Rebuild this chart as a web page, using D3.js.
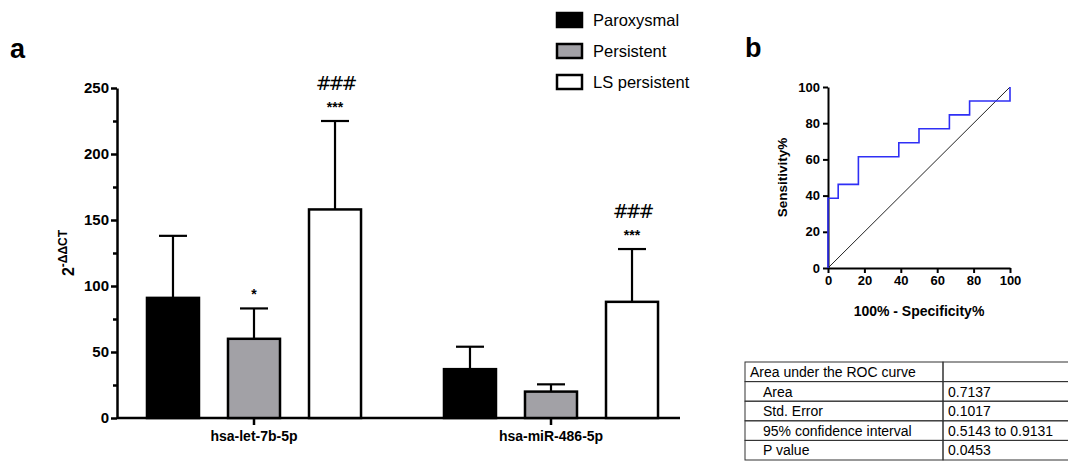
<!DOCTYPE html>
<html>
<head>
<meta charset="utf-8">
<script src="https://cdn.jsdelivr.net/npm/d3@7"></script>
<style>
  body { margin: 0; background: #fff; }
  svg { font-family: "Liberation Sans", Arial, sans-serif; }
</style>
</head>
<body>
<div id="chart"></div>
<script>
// data
const groups = ["hsa-let-7b-5p", "hsa-miR-486-5p"];
const series = ["Paroxysmal", "Persistent", "LS persistent"];
const seriesFill = ["#000000", "#a2a1a6", "#ffffff"];
const meanValues = [[91, 60, 158], [37, 20, 88]];
const errorTops = [[138, 83, 225], [54, 25.5, 128]];
const starLabels = [["", "*", "***"], ["", "", "***"]];
const hashLabels = [["", "", "###"], ["", "", "###"]];
const yTicks = [0, 25, 50, 75, 100, 125, 150, 175, 200, 225, 250];

const rocFpr = [0, 0, 5.6, 5.6, 16.7, 16.7, 38.9, 38.9, 50, 50, 66.7, 66.7, 77.8, 77.8, 100, 100];
const rocTpr = [0, 38.5, 38.5, 46.2, 46.2, 61.5, 61.5, 69.2, 69.2, 76.9, 76.9, 84.6, 84.6, 92.3, 92.3, 100];
const rocTicks = [0, 20, 40, 60, 80, 100];

const tableLabels = ["Area under the ROC curve", "Area", "Std. Error", "95% confidence interval", "P value"];
const tableValues = ["", "0.7137", "0.1017", "0.5143 to 0.9131", "0.0453"];

const svg = d3.select("#chart").append("svg")
  .attr("width", 1068)
  .attr("height", 464);

// ---- panel a: grouped bars
const plotLeft = 117, plotRight = 680, plotTop = 88, plotBottom = 418;

const y = d3.scaleLinear().domain([0, 250]).range([plotBottom, plotTop]);

const x0 = d3.scaleBand()
  .domain(groups)
  .range([plotLeft - 11.5, plotLeft + 582.5]);

const x1 = d3.scaleBand()
  .domain(series)
  .range([0, x0.bandwidth()])
  .paddingInner(0.358)
  .paddingOuter(0.512);

svg.append("text")
  .attr("x", 10).attr("y", 58)
  .style("font-size", "27px").style("font-weight", "bold")
  .text("a");

const yAxis = d3.axisLeft(y)
  .tickValues(yTicks)
  .tickSize(6)
  .tickSizeOuter(0)
  .tickFormat(d => d % 50 === 0 ? d : "");

const yG = svg.append("g")
  .attr("transform", `translate(${plotLeft},0)`)
  .call(yAxis);
yG.select(".domain").attr("stroke-width", 2.5);
yG.selectAll(".tick line").attr("stroke-width", 2.5)
  .attr("x2", d => d % 50 === 0 ? -6 : -4);
yG.selectAll(".tick text")
  .attr("x", -8)
  .style("font-size", "15px").style("font-weight", "bold")
  .style("font-family", "Liberation Sans, Arial, sans-serif")
  .attr("fill", "#000");

// y label 2^-ΔΔCT
const yLab = svg.append("text")
  .attr("transform", "translate(74,253) rotate(-90)")
  .attr("text-anchor", "middle")
  .style("font-size", "16px").style("font-weight", "bold");
yLab.append("tspan").text("2");
yLab.append("tspan").attr("dy", -7).style("font-size", "12px").text("-ΔΔCT");

// x axis
const xAxis = d3.axisBottom(x0).tickSize(7).tickSizeOuter(0);
const xG = svg.append("g")
  .attr("transform", `translate(0,${plotBottom})`)
  .call(xAxis);
xG.select(".domain").attr("d", `M${plotLeft},0H${plotRight}`).attr("stroke-width", 2.5);
xG.selectAll(".tick line").attr("stroke-width", 2.5);
xG.selectAll(".tick text")
  .attr("y", 13)
  .style("font-size", "14px").style("font-weight", "bold")
  .style("font-family", "Liberation Sans, Arial, sans-serif")
  .attr("fill", "#000");

const barData = [];
groups.forEach((g, gi) => {
  series.forEach((s, si) => {
    barData.push({
      group: g, series: s, fill: seriesFill[si],
      value: meanValues[gi][si], err: errorTops[gi][si],
      star: starLabels[gi][si], hash: hashLabels[gi][si]
    });
  });
});

const capW = 28;
const barG = svg.append("g");

// error bars (drawn first so the bar covers the stem)
barG.selectAll(".err")
  .data(barData)
  .join("g")
  .attr("class", "err")
  .each(function(d) {
    const cx = x0(d.group) + x1(d.series) + x1.bandwidth() / 2;
    const g = d3.select(this);
    g.append("line")
      .attr("x1", cx).attr("x2", cx)
      .attr("y1", y(d.value)).attr("y2", y(d.err))
      .attr("stroke", "#000").attr("stroke-width", 2.2);
    g.append("line")
      .attr("x1", cx - capW / 2).attr("x2", cx + capW / 2)
      .attr("y1", y(d.err)).attr("y2", y(d.err))
      .attr("stroke", "#000").attr("stroke-width", 2.2);
  });

barG.selectAll("rect")
  .data(barData)
  .join("rect")
  .attr("x", d => x0(d.group) + x1(d.series))
  .attr("y", d => y(d.value))
  .attr("width", x1.bandwidth())
  .attr("height", d => y(0) - y(d.value))
  .attr("fill", d => d.fill)
  .attr("stroke", "#000")
  .attr("stroke-width", 2.5);

barG.selectAll(".star")
  .data(barData.filter(d => d.star))
  .join("text")
  .attr("class", "star")
  .attr("x", d => x0(d.group) + x1(d.series) + x1.bandwidth() / 2)
  .attr("y", d => y(d.err) - 9)
  .attr("text-anchor", "middle")
  .style("font-size", "14px")
  .style("font-weight", "bold")
  .text(d => d.star);

barG.selectAll(".hash")
  .data(barData.filter(d => d.hash))
  .join("text")
  .attr("class", "hash")
  .attr("x", d => x0(d.group) + x1(d.series) + x1.bandwidth() / 2)
  .attr("y", d => y(d.err) - 31)
  .attr("text-anchor", "middle")
  .style("font-size", "19px")
  .style("font-family", "DejaVu Sans, sans-serif")
  .style("letter-spacing", "-3px")
  .text(d => d.hash);

// legend
const legend = svg.append("g").attr("transform", "translate(556,12)");
series.forEach((s, i) => {
  legend.append("rect")
    .attr("x", 1).attr("y", i * 31 + 1)
    .attr("width", 25).attr("height", 14)
    .attr("fill", seriesFill[i])
    .attr("stroke", "#000").attr("stroke-width", 2.5);
  legend.append("text")
    .attr("x", 37).attr("y", i * 31 + 14)
    .style("font-size", "16.5px")
    .text(s);
});

// ---- panel b: ROC curve
const rx = d3.scaleLinear().domain([0, 100]).range([828, 1010]);
const ry = d3.scaleLinear().domain([0, 100]).range([268, 87]);

svg.append("text")
  .attr("x", 745).attr("y", 57)
  .style("font-size", "27px").style("font-weight", "bold")
  .text("b");

const rxG = svg.append("g")
  .attr("transform", `translate(0,${ry(0)})`)
  .call(d3.axisBottom(rx).tickValues(rocTicks).tickSize(5).tickSizeOuter(0));
const ryG = svg.append("g")
  .attr("transform", `translate(${rx(0)},0)`)
  .call(d3.axisLeft(ry).tickValues(rocTicks).tickSize(5).tickSizeOuter(0));
[rxG, ryG].forEach(g => {
  g.select(".domain").attr("stroke-width", 2);
  g.selectAll(".tick line").attr("stroke-width", 2);
  g.selectAll(".tick text")
    .style("font-size", "13px").style("font-weight", "bold")
    .style("font-family", "Liberation Sans, Arial, sans-serif")
    .attr("fill", "#000");
});

svg.append("line")
  .attr("x1", rx(0)).attr("y1", ry(0))
  .attr("x2", rx(100)).attr("y2", ry(100))
  .attr("stroke", "#222").attr("stroke-width", 1);

const rocLine = d3.line()
  .x((d, i) => rx(rocFpr[i]))
  .y((d, i) => ry(rocTpr[i]));

svg.append("path")
  .datum(rocFpr)
  .attr("d", rocLine)
  .attr("fill", "none")
  .attr("stroke", "#2f2ff5")
  .attr("stroke-width", 1.6);

svg.append("text")
  .attr("x", (rx(0) + rx(100)) / 2).attr("y", 316)
  .attr("text-anchor", "middle")
  .style("font-size", "14px").style("font-weight", "bold")
  .text("100% - Specificity%");

svg.append("text")
  .attr("transform", `translate(787,${(ry(0) + ry(100)) / 2}) rotate(-90)`)
  .attr("text-anchor", "middle")
  .style("font-size", "13.5px").style("font-weight", "bold")
  .text("Sensitivity%");

// ---- results table
const tLeft = 745, tMid = 943, tRight = 1068, tTop = 362, rowH = 19.6;
const tbl = svg.append("g");
tableLabels.forEach((lab, i) => {
  const ty = tTop + i * rowH;
  tbl.append("rect")
    .attr("x", tLeft).attr("y", ty)
    .attr("width", tMid - tLeft).attr("height", rowH)
    .attr("fill", "none").attr("stroke", "#333").attr("stroke-width", 1);
  tbl.append("rect")
    .attr("x", tMid).attr("y", ty)
    .attr("width", tRight - tMid + 5).attr("height", rowH)
    .attr("fill", "none").attr("stroke", "#333").attr("stroke-width", 1);
  tbl.append("text")
    .attr("x", i === 0 ? tLeft + 5 : tLeft + 18).attr("y", ty + 15)
    .style("font-size", "14px")
    .text(lab);
  tbl.append("text")
    .attr("x", tMid + 5).attr("y", ty + 15)
    .style("font-size", "14px")
    .text(tableValues[i]);
});
</script>
</body>
</html>
